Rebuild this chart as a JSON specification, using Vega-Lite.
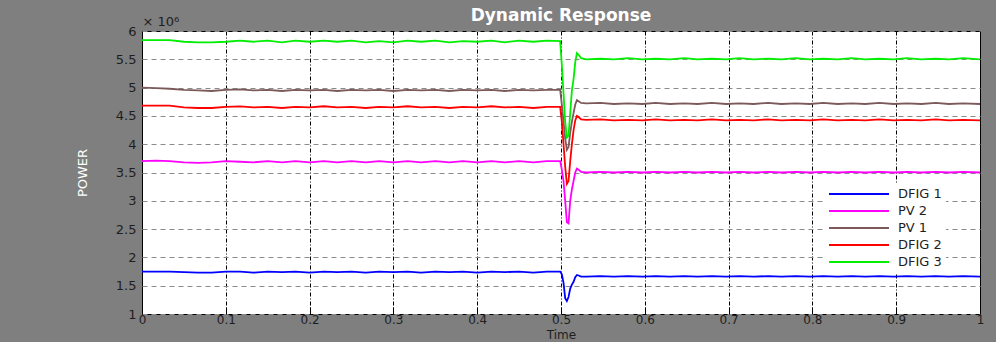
{
  "$schema": "https://vega.github.io/schema/vega-lite/v6.json",
  "width": 838,
  "height": 283,
  "autosize": {"type": "none"},
  "padding": {"left": 142, "top": 31, "right": 16, "bottom": 28},
  "background": "#7f7f7f",
  "title": {"text": "Dynamic Response", "color": "white", "font": "DejaVu Sans", "fontSize": 17, "fontWeight": "bold", "anchor": "middle", "offset": 4, "dy": 14},
  "config": {
    "view": {"fill": "white", "stroke": "black", "strokeWidth": 1},
    "axis": {"labelFont": "DejaVu Sans", "titleFont": "DejaVu Sans"}
  },
  "data": {"values": [
    {"t": 0, "DFIG 1": 1.75, "PV 2": 3.70, "PV 1": 5.00, "DFIG 2": 4.68, "DFIG 3": 5.84},
    {"t": 0.017, "DFIG 1": 1.75, "PV 2": 3.71, "PV 1": 4.99, "DFIG 2": 4.68, "DFIG 3": 5.84},
    {"t": 0.033, "DFIG 1": 1.75, "PV 2": 3.70, "PV 1": 4.98, "DFIG 2": 4.68, "DFIG 3": 5.84},
    {"t": 0.05, "DFIG 1": 1.74, "PV 2": 3.68, "PV 1": 4.96, "DFIG 2": 4.65, "DFIG 3": 5.81},
    {"t": 0.067, "DFIG 1": 1.73, "PV 2": 3.67, "PV 1": 4.95, "DFIG 2": 4.64, "DFIG 3": 5.80},
    {"t": 0.083, "DFIG 1": 1.73, "PV 2": 3.68, "PV 1": 4.94, "DFIG 2": 4.64, "DFIG 3": 5.80},
    {"t": 0.1, "DFIG 1": 1.75, "PV 2": 3.70, "PV 1": 4.96, "DFIG 2": 4.66, "DFIG 3": 5.81},
    {"t": 0.117, "DFIG 1": 1.75, "PV 2": 3.69, "PV 1": 4.97, "DFIG 2": 4.67, "DFIG 3": 5.83},
    {"t": 0.133, "DFIG 1": 1.73, "PV 2": 3.68, "PV 1": 4.95, "DFIG 2": 4.65, "DFIG 3": 5.81},
    {"t": 0.15, "DFIG 1": 1.75, "PV 2": 3.70, "PV 1": 4.96, "DFIG 2": 4.66, "DFIG 3": 5.83},
    {"t": 0.167, "DFIG 1": 1.74, "PV 2": 3.68, "PV 1": 4.94, "DFIG 2": 4.64, "DFIG 3": 5.80},
    {"t": 0.183, "DFIG 1": 1.75, "PV 2": 3.70, "PV 1": 4.96, "DFIG 2": 4.66, "DFIG 3": 5.83},
    {"t": 0.2, "DFIG 1": 1.73, "PV 2": 3.68, "PV 1": 4.95, "DFIG 2": 4.65, "DFIG 3": 5.81},
    {"t": 0.217, "DFIG 1": 1.75, "PV 2": 3.70, "PV 1": 4.96, "DFIG 2": 4.67, "DFIG 3": 5.83},
    {"t": 0.233, "DFIG 1": 1.74, "PV 2": 3.68, "PV 1": 4.94, "DFIG 2": 4.65, "DFIG 3": 5.81},
    {"t": 0.25, "DFIG 1": 1.75, "PV 2": 3.70, "PV 1": 4.96, "DFIG 2": 4.66, "DFIG 3": 5.83},
    {"t": 0.267, "DFIG 1": 1.73, "PV 2": 3.68, "PV 1": 4.95, "DFIG 2": 4.64, "DFIG 3": 5.80},
    {"t": 0.283, "DFIG 1": 1.75, "PV 2": 3.70, "PV 1": 4.96, "DFIG 2": 4.66, "DFIG 3": 5.82},
    {"t": 0.3, "DFIG 1": 1.74, "PV 2": 3.68, "PV 1": 4.94, "DFIG 2": 4.65, "DFIG 3": 5.80},
    {"t": 0.317, "DFIG 1": 1.75, "PV 2": 3.70, "PV 1": 4.96, "DFIG 2": 4.67, "DFIG 3": 5.83},
    {"t": 0.333, "DFIG 1": 1.73, "PV 2": 3.68, "PV 1": 4.95, "DFIG 2": 4.65, "DFIG 3": 5.81},
    {"t": 0.35, "DFIG 1": 1.75, "PV 2": 3.70, "PV 1": 4.96, "DFIG 2": 4.66, "DFIG 3": 5.83},
    {"t": 0.367, "DFIG 1": 1.74, "PV 2": 3.68, "PV 1": 4.94, "DFIG 2": 4.64, "DFIG 3": 5.80},
    {"t": 0.383, "DFIG 1": 1.75, "PV 2": 3.70, "PV 1": 4.96, "DFIG 2": 4.66, "DFIG 3": 5.82},
    {"t": 0.4, "DFIG 1": 1.73, "PV 2": 3.68, "PV 1": 4.95, "DFIG 2": 4.65, "DFIG 3": 5.81},
    {"t": 0.417, "DFIG 1": 1.75, "PV 2": 3.70, "PV 1": 4.96, "DFIG 2": 4.67, "DFIG 3": 5.83},
    {"t": 0.433, "DFIG 1": 1.74, "PV 2": 3.68, "PV 1": 4.94, "DFIG 2": 4.65, "DFIG 3": 5.80},
    {"t": 0.45, "DFIG 1": 1.75, "PV 2": 3.70, "PV 1": 4.96, "DFIG 2": 4.66, "DFIG 3": 5.83},
    {"t": 0.467, "DFIG 1": 1.73, "PV 2": 3.68, "PV 1": 4.95, "DFIG 2": 4.64, "DFIG 3": 5.81},
    {"t": 0.483, "DFIG 1": 1.75, "PV 2": 3.70, "PV 1": 4.96, "DFIG 2": 4.66, "DFIG 3": 5.83},
    {"t": 0.499, "DFIG 1": 1.75, "PV 2": 3.70, "PV 1": 4.96, "DFIG 2": 4.66, "DFIG 3": 5.82},
    {"t": 0.501, "DFIG 1": 1.70, "PV 2": 3.55, "PV 1": 4.70, "DFIG 2": 4.40, "DFIG 3": 5.40},
    {"t": 0.503, "DFIG 1": 1.55, "PV 2": 3.35, "PV 1": 4.40, "DFIG 2": 4.00, "DFIG 3": 4.90},
    {"t": 0.505, "DFIG 1": 1.28, "PV 2": 3.00, "PV 1": 4.10, "DFIG 2": 3.60, "DFIG 3": 4.40},
    {"t": 0.507, "DFIG 1": 1.23, "PV 2": 2.62, "PV 1": 3.90, "DFIG 2": 3.30, "DFIG 3": 4.12},
    {"t": 0.509, "DFIG 1": 1.30, "PV 2": 2.60, "PV 1": 3.95, "DFIG 2": 3.35, "DFIG 3": 4.15},
    {"t": 0.511, "DFIG 1": 1.45, "PV 2": 3.00, "PV 1": 4.20, "DFIG 2": 3.70, "DFIG 3": 4.55},
    {"t": 0.513, "DFIG 1": 1.52, "PV 2": 3.20, "PV 1": 4.40, "DFIG 2": 4.00, "DFIG 3": 4.95},
    {"t": 0.515, "DFIG 1": 1.57, "PV 2": 3.35, "PV 1": 4.55, "DFIG 2": 4.25, "DFIG 3": 5.15},
    {"t": 0.517, "DFIG 1": 1.65, "PV 2": 3.50, "PV 1": 4.70, "DFIG 2": 4.42, "DFIG 3": 5.45},
    {"t": 0.519, "DFIG 1": 1.69, "PV 2": 3.57, "PV 1": 4.78, "DFIG 2": 4.50, "DFIG 3": 5.61},
    {"t": 0.521, "DFIG 1": 1.68, "PV 2": 3.55, "PV 1": 4.76, "DFIG 2": 4.48, "DFIG 3": 5.58},
    {"t": 0.524, "DFIG 1": 1.66, "PV 2": 3.51, "PV 1": 4.73, "DFIG 2": 4.44, "DFIG 3": 5.52},
    {"t": 0.53, "DFIG 1": 1.66, "PV 2": 3.50, "PV 1": 4.72, "DFIG 2": 4.43, "DFIG 3": 5.50},
    {"t": 0.547, "DFIG 1": 1.67, "PV 2": 3.51, "PV 1": 4.73, "DFIG 2": 4.44, "DFIG 3": 5.51},
    {"t": 0.563, "DFIG 1": 1.66, "PV 2": 3.50, "PV 1": 4.71, "DFIG 2": 4.42, "DFIG 3": 5.50},
    {"t": 0.58, "DFIG 1": 1.67, "PV 2": 3.51, "PV 1": 4.72, "DFIG 2": 4.43, "DFIG 3": 5.52},
    {"t": 0.597, "DFIG 1": 1.66, "PV 2": 3.50, "PV 1": 4.71, "DFIG 2": 4.42, "DFIG 3": 5.50},
    {"t": 0.613, "DFIG 1": 1.67, "PV 2": 3.51, "PV 1": 4.73, "DFIG 2": 4.44, "DFIG 3": 5.51},
    {"t": 0.63, "DFIG 1": 1.66, "PV 2": 3.50, "PV 1": 4.71, "DFIG 2": 4.42, "DFIG 3": 5.50},
    {"t": 0.647, "DFIG 1": 1.67, "PV 2": 3.51, "PV 1": 4.72, "DFIG 2": 4.43, "DFIG 3": 5.52},
    {"t": 0.663, "DFIG 1": 1.66, "PV 2": 3.50, "PV 1": 4.71, "DFIG 2": 4.42, "DFIG 3": 5.50},
    {"t": 0.68, "DFIG 1": 1.67, "PV 2": 3.51, "PV 1": 4.73, "DFIG 2": 4.44, "DFIG 3": 5.51},
    {"t": 0.697, "DFIG 1": 1.66, "PV 2": 3.50, "PV 1": 4.71, "DFIG 2": 4.42, "DFIG 3": 5.50},
    {"t": 0.713, "DFIG 1": 1.67, "PV 2": 3.51, "PV 1": 4.72, "DFIG 2": 4.43, "DFIG 3": 5.52},
    {"t": 0.73, "DFIG 1": 1.66, "PV 2": 3.50, "PV 1": 4.71, "DFIG 2": 4.42, "DFIG 3": 5.50},
    {"t": 0.747, "DFIG 1": 1.67, "PV 2": 3.51, "PV 1": 4.73, "DFIG 2": 4.44, "DFIG 3": 5.51},
    {"t": 0.763, "DFIG 1": 1.66, "PV 2": 3.50, "PV 1": 4.71, "DFIG 2": 4.42, "DFIG 3": 5.50},
    {"t": 0.78, "DFIG 1": 1.67, "PV 2": 3.51, "PV 1": 4.72, "DFIG 2": 4.43, "DFIG 3": 5.52},
    {"t": 0.797, "DFIG 1": 1.66, "PV 2": 3.50, "PV 1": 4.71, "DFIG 2": 4.42, "DFIG 3": 5.50},
    {"t": 0.813, "DFIG 1": 1.67, "PV 2": 3.51, "PV 1": 4.73, "DFIG 2": 4.44, "DFIG 3": 5.51},
    {"t": 0.83, "DFIG 1": 1.66, "PV 2": 3.50, "PV 1": 4.71, "DFIG 2": 4.42, "DFIG 3": 5.50},
    {"t": 0.847, "DFIG 1": 1.67, "PV 2": 3.51, "PV 1": 4.72, "DFIG 2": 4.43, "DFIG 3": 5.52},
    {"t": 0.863, "DFIG 1": 1.66, "PV 2": 3.50, "PV 1": 4.71, "DFIG 2": 4.42, "DFIG 3": 5.50},
    {"t": 0.88, "DFIG 1": 1.67, "PV 2": 3.51, "PV 1": 4.73, "DFIG 2": 4.44, "DFIG 3": 5.51},
    {"t": 0.897, "DFIG 1": 1.66, "PV 2": 3.50, "PV 1": 4.71, "DFIG 2": 4.42, "DFIG 3": 5.50},
    {"t": 0.913, "DFIG 1": 1.67, "PV 2": 3.51, "PV 1": 4.72, "DFIG 2": 4.43, "DFIG 3": 5.52},
    {"t": 0.93, "DFIG 1": 1.66, "PV 2": 3.50, "PV 1": 4.71, "DFIG 2": 4.42, "DFIG 3": 5.50},
    {"t": 0.947, "DFIG 1": 1.67, "PV 2": 3.51, "PV 1": 4.73, "DFIG 2": 4.44, "DFIG 3": 5.51},
    {"t": 0.963, "DFIG 1": 1.66, "PV 2": 3.50, "PV 1": 4.71, "DFIG 2": 4.42, "DFIG 3": 5.50},
    {"t": 0.98, "DFIG 1": 1.67, "PV 2": 3.51, "PV 1": 4.72, "DFIG 2": 4.43, "DFIG 3": 5.52},
    {"t": 1.0, "DFIG 1": 1.66, "PV 2": 3.50, "PV 1": 4.71, "DFIG 2": 4.42, "DFIG 3": 5.50}
  ]},
  "transform": [{"fold": ["DFIG 1", "PV 2", "PV 1", "DFIG 2", "DFIG 3"], "as": ["series", "power"]}],
  "layer": [
    {
      "mark": {"type": "line", "strokeWidth": 1.8},
      "encoding": {
        "x": {"field": "t", "type": "quantitative", "scale": {"domain": [0, 1], "nice": false},
          "axis": {"title": "Time", "values": [0, 0.1, 0.2, 0.3, 0.4, 0.5, 0.6, 0.7, 0.8, 0.9, 1], "format": "~g",
            "labelFontSize": 12, "labelColor": "#1e1e1e", "labelPadding": 7, "labelFlush": false,
            "ticks": true, "tickSize": -7, "tickColor": "black", "domain": false,
            "grid": true, "gridColor": "black", "gridDash": [4, 2, 1, 2], "gridOpacity": 1, "gridWidth": 1,
            "titleFontSize": 12, "titleFontWeight": "normal", "titleColor": "#1e1e1e", "titlePadding": 4}},
        "y": {"field": "power", "type": "quantitative", "scale": {"domain": [1, 6], "nice": false, "zero": false},
          "axis": {"title": "POWER", "values": [1, 1.5, 2, 2.5, 3, 3.5, 4, 4.5, 5, 5.5, 6], "format": "~g",
            "labelFontSize": 13, "labelColor": "#1e1e1e", "labelPadding": 6, "labelFlush": false,
            "ticks": false, "domain": false,
            "grid": true, "gridColor": "#8a8a8a", "gridDash": [5, 4], "gridOpacity": 1, "gridWidth": 1,
            "titleFontSize": 13, "titleFontWeight": "normal", "titleColor": "white", "titlePadding": 26}},
        "color": {"field": "series", "type": "nominal",
          "scale": {"domain": ["DFIG 1", "PV 2", "PV 1", "DFIG 2", "DFIG 3"], "range": ["#0000ff", "#ff00ff", "#7d5a5a", "#ff0000", "#00ee00"]},
          "legend": {"title": null, "orient": "none", "legendX": 682, "legendY": 152, "fillColor": "white", "padding": 4,
            "symbolType": "M-1,0H9", "symbolSize": 144, "symbolStrokeWidth": 2, "labelOffset": 56,
            "labelFont": "DejaVu Sans", "labelFontSize": 13, "labelColor": "#1e1e1e", "rowPadding": 3}}
      }
    },
    {
      "mark": {"type": "rule", "strokeOpacity": 0},
      "encoding": {
        "x": {"field": "t", "type": "quantitative",
          "axis": {"orient": "top", "title": "× 10⁶", "labels": false, "ticks": false, "domain": false, "grid": false,
            "titleAnchor": "start", "titleAlign": "left", "titleX": 0, "titleY": -6, "titleBaseline": "alphabetic",
            "titleFontSize": 13, "titleFontWeight": "normal", "titleColor": "#1e1e1e"}}
      }
    }
  ],
  "resolve": {"axis": {"x": "independent"}}
}
